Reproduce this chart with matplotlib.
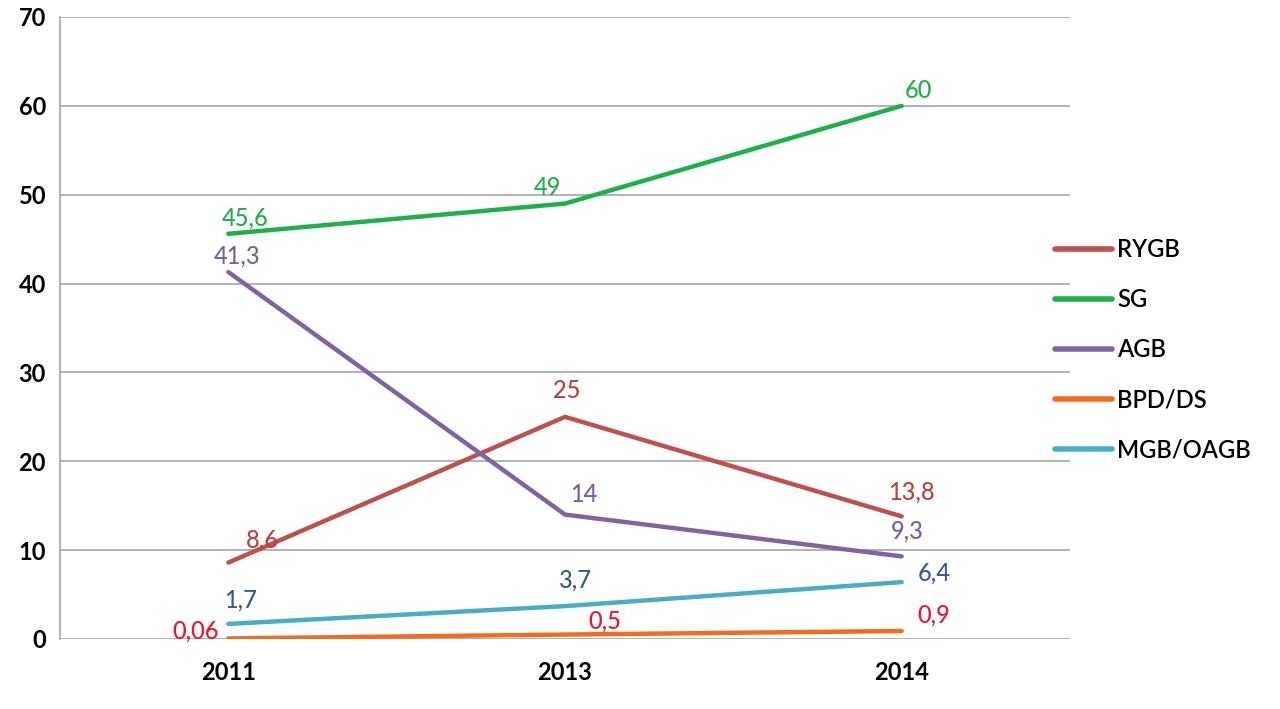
import matplotlib
matplotlib.use("Agg")
import matplotlib.pyplot as plt

plt.rcParams['font.family'] = ['Lato', 'DejaVu Sans']

years = ['2011', '2013', '2014']
rygb = [8.6, 25, 13.8]
sg = [45.6, 49, 60]
agb = [41.3, 14, 9.3]
bpd = [0.06, 0.5, 0.9]
mgb = [1.7, 3.7, 6.4]

rygb_labels = ['8,6', '25', '13,8']
sg_labels = ['45,6', '49', '60']
agb_labels = ['41,3', '14', '9,3']
bpd_labels = ['0,06', '0,5', '0,9']
mgb_labels = ['1,7', '3,7', '6,4']

# (name, values, labels, line colour, label colour, label offsets in px)
series = [
    ('RYGB', rygb, rygb_labels, '#c0504d', '#b5443f', [(34, 23), (2, 26), (10, 24)]),
    ('SG', sg, sg_labels, '#1fb04b', '#1fb04b', [(17, 16), (-18, 16), (17, 15)]),
    ('AGB', agb, agb_labels, '#8064a2', '#7a5f9e', [(9, 16), (19, 20), (6, 25)]),
    ('BPD/DS', bpd, bpd_labels, '#f36b21', '#e8192c', [(-33, 7), (40, 14), (32, 16)]),
    ('MGB/OAGB', mgb, mgb_labels, '#4bacc6', '#3b5a8a', [(12, 24), (10, 26), (33, 9)]),
]

fig = plt.figure(figsize=(12.8, 7.09), dpi=100)
ax = fig.add_axes([60/1280, 1-639/709, 1010/1280, 622/709])

x = list(range(len(years)))
for name, vals, labs, col, lcol, offs in series:
    ax.plot(x, vals, color=col, linewidth=3.2, label=name, solid_capstyle='round')
    for xi, v, t, (dx, dy) in zip(x, vals, labs, offs):
        ax.annotate(t, (xi, v), xytext=(dx*0.72, dy*0.72), textcoords='offset points',
                    ha='center', va='center', color=lcol, fontsize=17, fontweight='medium')

ax.set_xlim(-0.5, 2.5)
ax.set_ylim(0, 70)
ax.set_yticks(range(0, 71, 10))
ax.set_xticks(x)
ax.set_xticklabels(years)
ax.yaxis.grid(True, color='#a6a6a6', linewidth=1.2)
ax.set_axisbelow(True)
for s in ['top', 'right', 'bottom']:
    ax.spines[s].set_visible(False)
ax.spines['left'].set_color('#a6a6a6')
ax.spines['left'].set_linewidth(1.2)
ax.tick_params(length=0, labelsize=17)
ax.tick_params(axis='x', pad=16)
ax.tick_params(axis='y', pad=10)
for lab in ax.get_xticklabels() + ax.get_yticklabels():
    lab.set_fontweight('bold')

leg = ax.legend(loc='center left', bbox_to_anchor=(0.964, 0.465), frameon=False,
                fontsize=17, handlelength=2.4, labelspacing=1.15, handletextpad=0.25)
for line in leg.get_lines():
    line.set_linewidth(4)
for t in leg.get_texts():
    t.set_fontweight('semibold')

fig.savefig('out.png', dpi=100)
